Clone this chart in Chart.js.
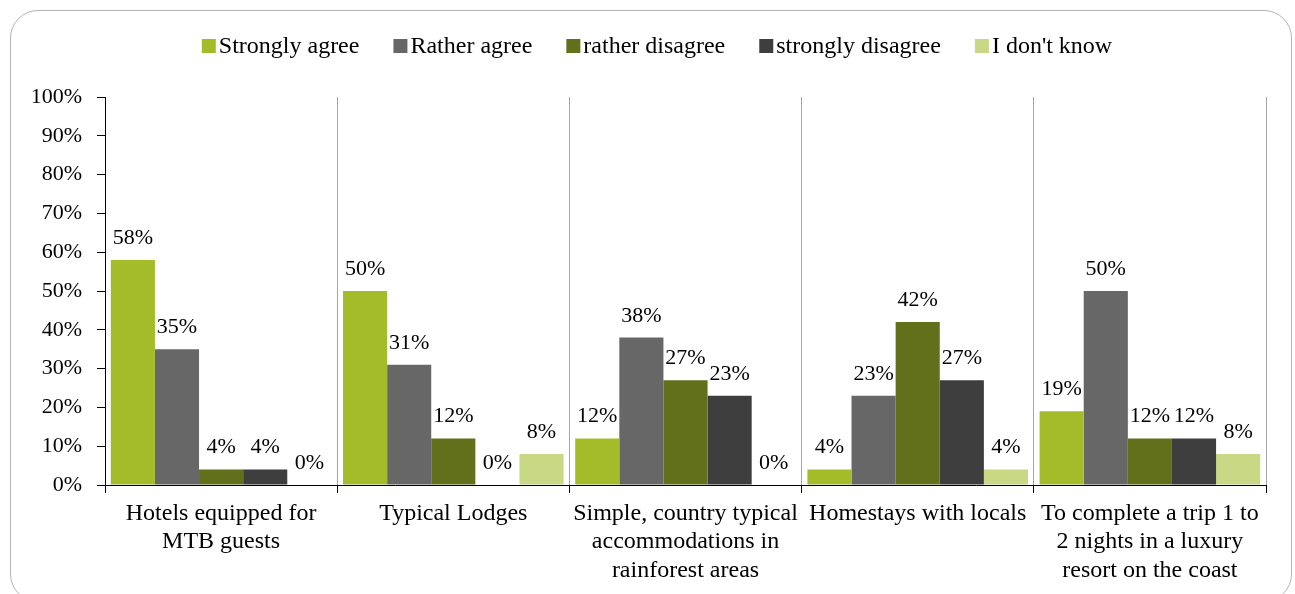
<!DOCTYPE html>
<html>
<head>
<meta charset="utf-8">
<script src="https://cdn.jsdelivr.net/npm/chart.js@4/dist/chart.umd.min.js"></script>
<style>
  html, body { margin: 0; padding: 0; background: #fff; }
  #wrap { position: relative; width: 1295px; height: 594px; overflow: hidden; }
  #frame {
    position: absolute; left: 10px; top: 10px; width: 1282px; height: 592px;
    border: 1.5px solid #b4b4b4; border-radius: 28px; box-sizing: border-box;
  }
  canvas { position: absolute; left: 0; top: 0; }
</style>
</head>
<body>
<div id="wrap">
  <div id="frame"></div>
  <canvas id="chart" width="1295" height="594"></canvas>
</div>
<script>
// ── Data ──────────────────────────────────
const categories = [
  ['Hotels equipped for', 'MTB guests'],
  ['Typical Lodges'],
  ['Simple, country typical', 'accommodations in', 'rainforest areas'],
  ['Homestays with locals'],
  ['To complete a trip 1 to', '2 nights in a luxury', 'resort on the coast'],
];
const seriesNames = ['Strongly agree', 'Rather agree', 'rather disagree', 'strongly disagree', "I don't know"];
const stronglyAgree    = [58, 50, 12, 4, 19];
const ratherAgree      = [35, 31, 38, 23, 50];
const ratherDisagree   = [4, 12, 27, 42, 12];
const stronglyDisagree = [4, 0, 23, 27, 12];
const dontKnow         = [0, 8, 0, 4, 8];
const yTicks = [0, 10, 20, 30, 40, 50, 60, 70, 80, 90, 100];

const COLORS = ['#A4BC2A', '#676767', '#62701C', '#3E3E3E', '#C8D884'];
const FONT = "'Liberation Serif', 'Times New Roman', serif";

// value labels above each bar
const barLabels = {
  id: 'barLabels',
  afterDatasetsDraw(chart) {
    const ctx = chart.ctx;
    ctx.save();
    ctx.font = `22px ${FONT}`;
    ctx.fillStyle = '#000';
    ctx.textAlign = 'center';
    ctx.textBaseline = 'alphabetic';
    chart.data.datasets.forEach((ds, i) => {
      chart.getDatasetMeta(i).data.forEach((bar, j) => {
        ctx.fillText(ds.data[j] + '%', bar.x, bar.y - 16);
      });
    });
    ctx.restore();
  }
};

// compact legend row: square swatch right against its text
const topLegend = {
  id: 'topLegend',
  afterDraw(chart) {
    const ctx = chart.ctx;
    const box = 14, gap = 3, spacing = 34, baseline = 53, centre = 657;
    ctx.save();
    ctx.font = `24px ${FONT}`;
    ctx.textBaseline = 'alphabetic';
    ctx.textAlign = 'left';
    const items = chart.data.datasets.map(ds => ({
      text: ds.label, color: ds.backgroundColor, w: ctx.measureText(ds.label).width
    }));
    const total = items.reduce((s, it) => s + box + gap + it.w, 0) + spacing * (items.length - 1);
    let x = centre - total / 2;
    items.forEach(it => {
      ctx.fillStyle = it.color;
      ctx.fillRect(x, baseline - box, box, box);
      ctx.fillStyle = '#000';
      ctx.fillText(it.text, x + box + gap, baseline);
      x += box + gap + it.w + spacing;
    });
    ctx.restore();
  }
};

const values = [stronglyAgree, ratherAgree, ratherDisagree, stronglyDisagree, dontKnow];

new Chart(document.getElementById('chart'), {
  type: 'bar',
  data: {
    labels: categories,
    datasets: seriesNames.map((name, i) => ({
      label: name,
      data: values[i],
      backgroundColor: COLORS[i],
      borderWidth: 0,
      categoryPercentage: 0.95,
      barPercentage: 1.0,
    }))
  },
  options: {
    responsive: false,
    animation: false,
    events: [],
    layout: { padding: { top: 97, left: 24, right: 29, bottom: 0 } },
    plugins: {
      legend: { display: false },
      tooltip: { enabled: false }
    },
    scales: {
      x: {
        offset: true,
        border: { color: '#000', width: 1 },
        grid: { offset: true, color: '#a6a6a6', tickColor: '#000', tickLength: 8, lineWidth: 1 },
        ticks: {
          color: '#000', font: { family: FONT, size: 24, lineHeight: 1.2 },
          autoSkip: false, maxRotation: 0, padding: 6
        },
        afterFit: s => { s.height = 109; }
      },
      y: {
        min: 0, max: 100,
        border: { color: '#000', width: 1 },
        grid: { drawOnChartArea: false, tickColor: '#000', tickLength: 8 },
        afterBuildTicks: s => { s.ticks = yTicks.map(v => ({ value: v })); },
        ticks: {
          color: '#000', font: { family: FONT, size: 22 }, padding: 15,
          callback: v => v + '%'
        },
        afterFit: s => { s.width = 81; }
      }
    }
  },
  plugins: [barLabels, topLegend]
});
</script>
</body>
</html>
